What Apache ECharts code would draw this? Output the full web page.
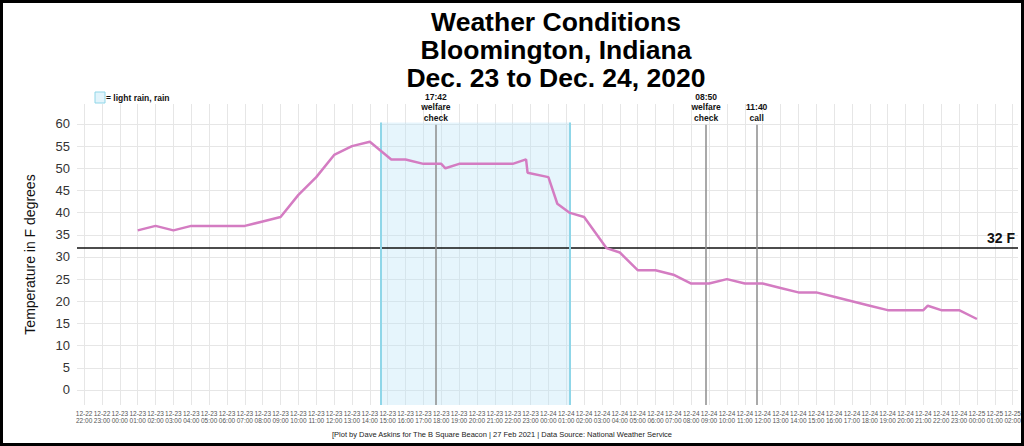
<!DOCTYPE html>
<html><head><meta charset="utf-8">
<script src="https://cdn.jsdelivr.net/npm/echarts@6/dist/echarts.min.js"></script>
<style>
html,body{margin:0;padding:0;background:#fff}
#c{width:1024px;height:446px}
#f{position:absolute;left:0;top:0;width:1024px;height:446px;box-sizing:border-box;border:3px solid #000;pointer-events:none}
</style>
</head><body><div id="c"></div><div id="f"></div>
<script>
// Observation times (month-day hh:mm) and temperatures (°F)
const obsTimes = [
  '12-23 01:00','12-23 02:00','12-23 03:00','12-23 04:00','12-23 05:00','12-23 06:00','12-23 07:00',
  '12-23 08:00','12-23 09:00','12-23 10:00','12-23 11:00','12-23 12:00','12-23 13:00','12-23 14:00',
  '12-23 15:12','12-23 16:00','12-23 17:00','12-23 18:00','12-23 18:14','12-23 19:00','12-23 20:00',
  '12-23 21:00','12-23 22:00','12-23 22:45','12-23 22:50','12-24 00:00','12-24 00:30','12-24 01:10',
  '12-24 02:00','12-24 03:15','12-24 04:00','12-24 05:00','12-24 06:00','12-24 07:00','12-24 08:00',
  '12-24 09:00','12-24 10:00','12-24 11:00','12-24 12:00','12-24 13:00','12-24 14:00','12-24 15:00',
  '12-24 16:00','12-24 17:00','12-24 18:00','12-24 19:00','12-24 20:00','12-24 21:00','12-24 21:15',
  '12-24 22:00','12-24 23:00','12-25 00:00'
];
const obsTemps = [
  36,37,36,37,37,37,37,
  38,39,44,48,53,55,56,
  52,52,51,51,50,51,51,
  51,51,52,49,48,42,40,
  39,32,31,27,27,26,24,
  24,25,24,24,23,22,22,
  21,20,19,18,18,18,19,
  18,18,16
];
// Rain period
const rainStart = '12-23 14:38';
const rainEnd = '12-24 01:13';
// Event markers
const eventTimes = ['12-23 17:42','12-24 08:50','12-24 11:40'];
const eventLabels = ['17:42\nwelfare\ncheck','08:50\nwelfare\ncheck','11:40\ncall'];
// Freezing reference
const freezeValue = 32;
const freezeLabel = '32 F';
// Axis ranges
const xStart = '12-22 21:36', xEnd = '12-25 02:18';
const yTickValues = [0,5,10,15,20,25,30,35,40,45,50,55,60];

function toHours(s){
  const m = s.match(/(\d+)-(\d+) (\d+):(\d+)/);
  return (parseInt(m[2],10)-22)*24 + parseInt(m[3],10) + parseInt(m[4],10)/60;
}
function pad(n){return (n<10?'0':'')+n;}
const FONT = '"Liberation Sans", Arial, Helvetica, sans-serif';

const lineData = obsTimes.map((t,i)=>[toHours(t), obsTemps[i]]);
const yMin = -3.4, yMax = 64.5, rainTop = 60.3, eventTop = 59.8;

const markLines = [
  { yAxis: freezeValue, lineStyle:{color:'#111', width:1.6, type:'solid'},
    label:{show:true, position:'insideEndTop', formatter: freezeLabel, fontFamily:FONT, fontWeight:'bold', fontSize:14, color:'#111', distance:3} },
  [ {coord:[toHours(rainStart), yMin]}, {coord:[toHours(rainStart), rainTop]} ],
  [ {coord:[toHours(rainEnd), yMin]}, {coord:[toHours(rainEnd), rainTop]} ]
];
markLines[1][0].lineStyle = {color:'#8fd6e8', width:2, type:'solid'}; markLines[1][0].label={show:false};
markLines[2][0].lineStyle = {color:'#8fd6e8', width:2, type:'solid'}; markLines[2][0].label={show:false};
eventTimes.forEach((t,i)=>{
  markLines.push([
    {coord:[toHours(t), yMin], lineStyle:{color:'#8c8c8c', width:1.5, type:'solid'},
     label:{show:true, position:'end', formatter: eventLabels[i], fontFamily:FONT, fontWeight:'bold', fontSize:8.5, lineHeight:10.5, color:'#111', distance:2}},
    {coord:[toHours(t), eventTop]}
  ]);
});

const chart = echarts.init(document.getElementById('c'), null, {renderer:'svg'});
chart.setOption({
  animation:false,
  backgroundColor:'#fff',
  title:{
    text:'Weather Conditions\nBloomington, Indiana\nDec. 23 to Dec. 24, 2020',
    left:551, top:3, textAlign:'center',
    textStyle:{fontFamily:FONT, fontSize:26.5, fontWeight:'bold', lineHeight:28, color:'#000'}
  },
  grid:{left:77, right:6, top:104, bottom:41, containLabel:false},
  xAxis:{
    type:'value', min:toHours(xStart), max:toHours(xEnd),
    minInterval:1, maxInterval:1, splitNumber:53,
    axisLine:{show:false}, axisTick:{show:false},
    axisLabel:{
      fontFamily:FONT, fontSize:6.5, lineHeight:7, color:'#555', margin:5,
      formatter:function(v){
        if (Math.abs(v-Math.round(v))>1e-6) return '';
        v = Math.round(v);
        const day = 22 + Math.floor(v/24), hh = v%24;
        return '12-'+day+'\n'+pad(hh)+':00';
      }
    },
    splitLine:{show:true, showMinLine:false, showMaxLine:false, lineStyle:{color:'#e6e6e6', width:1}}
  },
  yAxis:{
    type:'value', min:yMin, max:yMax, minInterval:5, maxInterval:5, splitNumber:14,
    name:'Temperature in F degrees', nameLocation:'middle', nameGap:40, nameRotate:90,
    nameTextStyle:{fontFamily:FONT, fontSize:14, color:'#111'},
    axisLine:{show:false}, axisTick:{show:false},
    axisLabel:{fontFamily:FONT, fontSize:13, color:'#333', margin:7,
      formatter:function(v){ const r=Math.round(v); return (Math.abs(v-r)<1e-6 && yTickValues.indexOf(r)>=0) ? String(r) : ''; }},
    splitLine:{show:true, showMinLine:false, showMaxLine:false, lineStyle:{color:'#e6e6e6', width:1}}
  },
  graphic:[
    {type:'rect', shape:{x:95, y:92, width:10, height:11}, style:{fill:'#e2f4fb', stroke:'#8fd6e8', lineWidth:1}},
    {type:'text', x:106, y:97.5, style:{text:'= light rain, rain', fontFamily:FONT, fontWeight:'bold', fontSize:8.5, fill:'#111', verticalAlign:'middle'}},
    {type:'text', x:502, y:434, style:{text:'[Plot by Dave Askins for The B Square Beacon | 27 Feb 2021 | Data Source: National Weather Service', fontFamily:FONT, fontSize:7.5, fill:'#222', align:'center', verticalAlign:'middle'}}
  ],
  series:[{
    type:'line', data:lineData, symbol:'none', z:5,
    lineStyle:{color:'#d47cc2', width:2.5},
    markArea:{silent:true, itemStyle:{color:'rgba(190,230,248,0.38)'},
      data:[[ {coord:[toHours(rainStart), rainTop]}, {coord:[toHours(rainEnd), yMin]} ]]},
    markLine:{silent:true, symbol:['none','none'], data:markLines}
  }]
});
</script>
</body></html>
